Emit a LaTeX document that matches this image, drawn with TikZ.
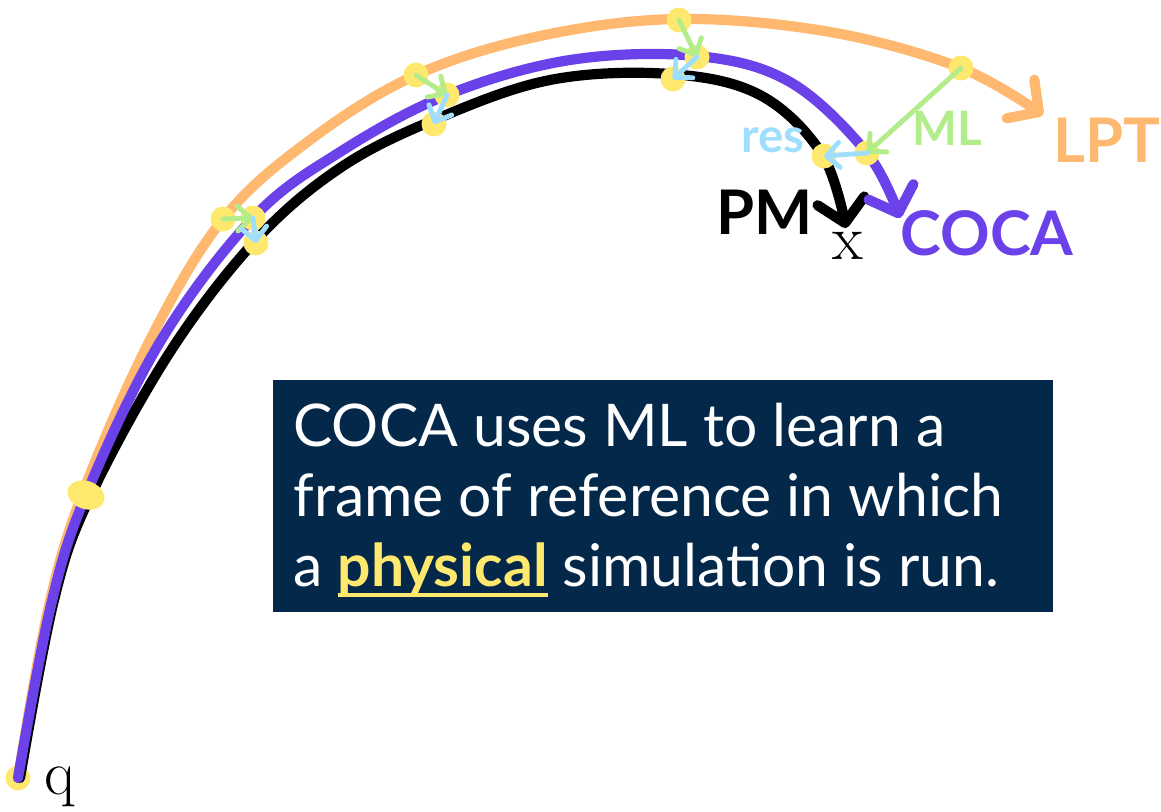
\documentclass[tikz,border=0pt]{standalone}
\usepackage{fontspec}
\setmainfont{Lato}
\newfontfamily\lmr{Latin Modern Roman}
\usetikzlibrary{arrows.meta}
\definecolor{lptorange}{HTML}{FFB870}
\definecolor{cocapurple}{HTML}{6B41E9}
\definecolor{mlgreen}{HTML}{B3EC8A}
\definecolor{resblue}{HTML}{A0DEFF}
\definecolor{dotyellow}{HTML}{FFE86E}
\definecolor{boxnavy}{HTML}{03284A}
\newcommand\thickul[1]{{\setbox0\hbox{#1}\rlap{\rule[-6.5pt]{\wd0}{2.3pt}}\box0}}
\tikzset{
  traj/.style={line width=5.8pt, line cap=round, line join=round,
    -{Straight Barb[length=0.45cm,width=0.95cm,round]}},
  corr/.style={line width=2.8pt, line cap=round,
    -{Straight Barb[length=0.26cm,width=0.5cm,round]}},
  dot/.style={fill=dotyellow},
  lbl/.style={font=\bfseries\fontsize{35}{40}\selectfont, inner sep=0pt},
  small lbl/.style={font=\bfseries\fontsize{27}{30}\selectfont, inner sep=0pt},
  boxline/.style={anchor=base west, inner sep=0pt, text=white,
    font=\fontsize{33.5}{40}\selectfont},
}
\begin{document}
\begin{tikzpicture}[x=0.02cm,y=-0.02cm]
  \useasboundingbox (0,0) rectangle (1161,812);
  % start point
  \coordinate (q) at (18,778);
  \fill[dot] (q) circle[radius=0.25cm];
  % trajectories
  \draw[traj, lptorange] plot[smooth, tension=0.6] coordinates {
    (18,778) (48,610) (82,495) (150,340) (223,219) (310,140) (416,75)
    (540,36) (679,19) (830,32) (961,68) (1043,115)};
  \draw[traj, black] plot[smooth, tension=0.6] coordinates {
    (20,778) (54,600) (90,497) (170,352) (256,240) (340,168) (434,120)
    (550,80) (670,74) (760,95) (822,154) (846,228)};
  \draw[traj, cocapurple] plot[smooth, tension=0.6] coordinates {
    (18,778) (51,605) (86,495) (160,342) (253,218) (340,152) (447,95)
    (570,60) (697,56) (790,82) (867,153) (900,218)};
  % correction points
  \coordinate (o1) at (223,219); \coordinate (p1) at (253,218); \coordinate (b1) at (256,243);
  \coordinate (o2) at (416,75);  \coordinate (p2) at (447,95);  \coordinate (b2) at (434,124);
  \coordinate (o3) at (679,20);  \coordinate (p3) at (697,57);  \coordinate (b3) at (673,79);
  \coordinate (o4) at (961,68);  \coordinate (p4) at (867,153); \coordinate (b4) at (824,156);
  \fill[dot, rotate around={-20:(86,495)}] (86,495) ellipse[x radius=0.38cm, y radius=0.28cm];
  \foreach \i in {1,...,4} {
    \fill[dot] (o\i) circle[radius=0.25cm];
    \fill[dot] (p\i) circle[radius=0.25cm];
    \fill[dot] (b\i) circle[radius=0.25cm];
  }
  \foreach \i in {1,...,4} {
    \draw[corr, mlgreen] (o\i) -- (p\i);
    \draw[corr, resblue] (p\i) -- (b\i);
  }
  % labels
  \node[lbl, text=lptorange] (lpt) at (1107,140) {LPT};
  \node[lbl, text=cocapurple] (coca) at (987,233) {COCA};
  \node[lbl, text=black] (pm) at (765,212) {PM};
  \node[small lbl, text=mlgreen] (ml) at (947,128) {ML};
  \node[small lbl, text=resblue] (res) at (773,140) {res};
  \node[inner sep=0pt, font=\lmr\fontsize{36}{40}\selectfont] (x) at (848,246) {x};
  \node[inner sep=0pt, font=\lmr\fontsize{36}{40}\selectfont] (qlbl) at (60,787) {q};
  % text box
  \fill[boxnavy] (273,380) rectangle (1053,612);
  \node[boxline] (line1) at (293,446) {COCA uses ML to learn a};
  \node[boxline] (line2) at (293,516) {frame of reference in which};
  \node[boxline] (line3) at (293,586) {a \textcolor{dotyellow}{\thickul{\textbf{physical}}} simulation is run.};
\end{tikzpicture}
\end{document}
